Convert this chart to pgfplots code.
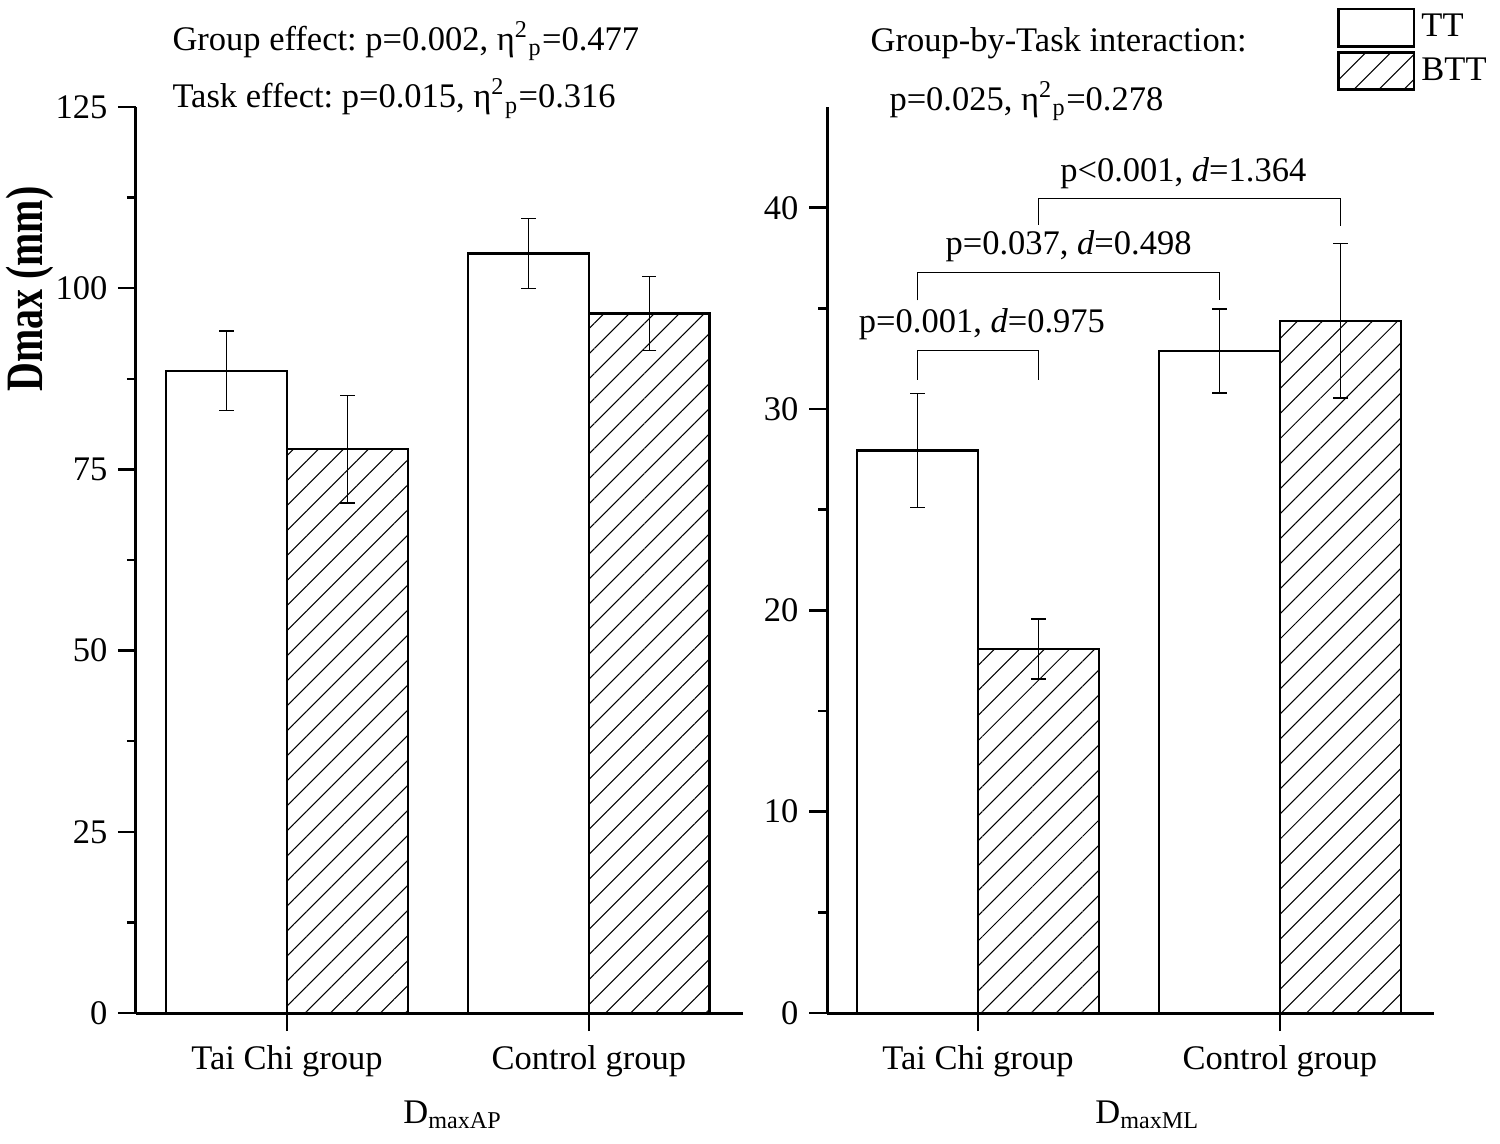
\documentclass[border=0pt]{standalone}
\usepackage{fontspec}
\setmainfont{Liberation Serif}
\usepackage{graphicx}
\usepackage{pgfplots}
\usepackage{pgfplotstable}
\pgfplotsset{compat=1.18}
\usetikzlibrary{patterns.meta}
\frenchspacing

\pgfplotstableread{
x y err
-0.2 88.6 5.5
0.8 104.8 4.85
}\apTT
\pgfplotstableread{
x y err
0.2 77.8 7.4
1.2 96.5 5.1
}\apBTT
\pgfplotstableread{
x y err
-0.2 27.95 2.83
0.8 32.88 2.08
}\mlTT
\pgfplotstableread{
x y err
0.2 18.07 1.49
1.2 34.38 3.83
}\mlBTT

\newcommand{\txt}{\fontsize{11.5}{13.5}\selectfont}

\pgfplotsset{
  myaxis/.style={
    scale only axis,
    width=202.3pt, height=302pt,
    anchor=south west,
    xmin=-0.5, xmax=1.51,
    ymin=0,
    enlargelimits=false,
    clip=false,
    axis x line*=bottom,
    axis y line*=left,
    axis line style={-, line width=1pt, black},
    tick align=outside,
    major tick length=6pt,
    minor tick length=3pt,
    every tick/.style={line width=0.8pt, black},
    xtick={0,1},
    xticklabels={Tai Chi group, Control group},
    minor y tick num=1,
    tick label style={font=\txt},
    xticklabel style={yshift=-1.3pt},
    /pgf/number format/assume math mode=true,
    xlabel style={font=\txt, anchor=base},
    ybar, bar width=0.4,
    error bars/y dir=both,
    error bars/y explicit,
    error bars/error bar style={line width=0.5pt, black},
    error bars/error mark options={rotate=90, mark size=2.4pt, line width=0.5pt, black},
    legend image code/.code={\draw[##1, line width=0.8pt] (0pt,-6.2pt) rectangle (25.2pt,6.2pt);},
  },
  ttstyle/.style={draw=black, fill=white, line width=0.8pt, bar shift=0pt},
  bttstyle/.style={draw=black, line width=0.8pt, bar shift=0pt,
    pattern={Lines[angle=45, distance=5.9pt, line width=0.35pt]}},
}

\begin{document}
\begin{tikzpicture}
\path[use as bounding box] (0pt,0pt) rectangle (500pt,381pt);
\begin{axis}[myaxis, at={(45.33pt,43.33pt)}, ymax=125, ytick={0,25,...,125},
  ylabel={\scalebox{0.76}[1]{\bfseries Dmax (mm)}},
  ylabel style={font=\fontsize{17.5}{20}\selectfont, at={(axis description cs:-0.175,0.799)}, anchor=center},
  xlabel={D\textsubscript{maxAP}},
  xlabel style={at={(axis description cs:0.522,-0.1214)}},
]
\addplot[ttstyle] table[x=x,y=y,y error=err]{\apTT};
\addplot[bttstyle] table[x=x,y=y,y error=err]{\apBTT};
\end{axis}
\begin{axis}[myaxis, at={(275.67pt,43.33pt)}, ymax=45, ytick={0,10,...,40},
  xlabel={D\textsubscript{maxML}},
  xlabel style={at={(axis description cs:0.528,-0.1214)}},
  legend style={at={(axis description cs:0.84,1.11)}, anchor=north west, draw=none, fill=none,
    inner sep=0pt, row sep=1.2pt, font=\txt},
  legend cell align=left,
]
\addplot[ttstyle] table[x=x,y=y,y error=err]{\mlTT};
\addlegendentry{TT}
\addplot[bttstyle] table[x=x,y=y,y error=err]{\mlBTT};
\addlegendentry{BTT}
\draw[line width=0.5pt] (axis cs:-0.2,31.45) |- (axis cs:0.2,32.9) -- (axis cs:0.2,31.45);
\draw[line width=0.5pt] (axis cs:-0.2,35.4) |- (axis cs:0.8,36.77) -- (axis cs:0.8,35.4);
\draw[line width=0.5pt] (axis cs:0.2,39.15) |- (axis cs:1.2,40.45) -- (axis cs:1.2,39.1);
\node[anchor=base, inner sep=0pt, font=\txt] at (axis cs:0.013,33.8) {p=0.001, \textit{d}=0.975};
\node[anchor=base, inner sep=0pt, font=\txt] at (axis cs:0.30,37.66) {p=0.037, \textit{d}=0.498};
\node[anchor=base, inner sep=0pt, font=\txt] at (axis cs:0.68,41.3) {p<0.001, \textit{d}=1.364};
\end{axis}
\node[anchor=base west, inner sep=0pt, font=\txt] at (57.3pt,364.3pt) {Group effect: p=0.002, η\textsuperscript{2}\textsubscript{p}=0.477};
\node[anchor=base west, inner sep=0pt, font=\txt] at (57.3pt,345pt) {Task effect: p=0.015, η\textsuperscript{2}\textsubscript{p}=0.316};
\node[anchor=base west, inner sep=0pt, font=\txt] at (290pt,363.7pt) {Group-by-Task interaction:};
\node[anchor=base west, inner sep=0pt, font=\txt] at (296.3pt,344.3pt) {p=0.025, η\textsuperscript{2}\textsubscript{p}=0.278};
\end{tikzpicture}
\end{document}
